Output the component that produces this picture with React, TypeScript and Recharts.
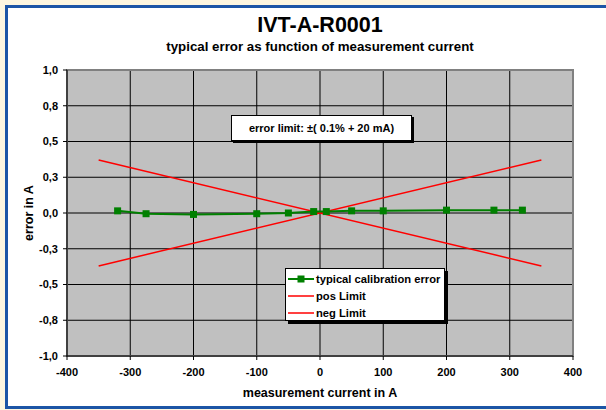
import React from "react";
import {
  LineChart,
  Line,
  XAxis,
  YAxis,
  CartesianGrid,
  ReferenceArea,
} from "recharts";

// measurement current (A) and typical calibration error (A)
const currents = [-320, -275, -200, -100, -50, -10, 10, 50, 100, 200, 275, 320];
const calibErrors = [0.015, -0.005, -0.01, -0.005, 0.0, 0.01, 0.01, 0.015, 0.015, 0.02, 0.02, 0.02];

// error limit ±(0.1% + 20 mA), drawn as straight lines between the end points
const limitCurrents = [-350, 350];
const posLimitValues = [-0.37, 0.37];
const negLimitValues = [0.37, -0.37];

const xTicks = [-400, -300, -200, -100, 0, 100, 200, 300, 400];
const yTicks = [-1, -0.75, -0.5, -0.25, 0, 0.25, 0.5, 0.75, 1];

const calibData = currents.map((x, i) => ({ x, y: calibErrors[i] }));
const posData = limitCurrents.map((x, i) => ({ x, y: posLimitValues[i] }));
const negData = limitCurrents.map((x, i) => ({ x, y: negLimitValues[i] }));

const legendItems = [
  { name: "typical calibration error", color: "#008000", marker: true },
  { name: "pos Limit", color: "#ff0000", marker: false },
  { name: "neg Limit", color: "#ff0000", marker: false },
];

const FONT = '"Liberation Sans", Arial, sans-serif';

const SquareDot = (props: any) => {
  const { cx, cy } = props;
  if (cx == null || cy == null) return null;
  return <rect x={cx - 3.5} y={cy - 3.5} width={7} height={7} fill="#008000" />;
};

const LegendBox = () => (
  <div
    style={{
      position: "absolute",
      left: 285,
      top: 268,
      width: 160,
      height: 53,
      background: "#fff",
      border: "1px solid #000",
      boxShadow: "3px 3px 0 #000",
      fontWeight: "bold",
      fontSize: 11.2,
      color: "#000",
      boxSizing: "border-box",
      padding: "1px 0 0 2px",
      whiteSpace: "nowrap",
    }}
  >
    {legendItems.map((it) => (
      <div key={it.name} style={{ display: "flex", alignItems: "center", height: 17 }}>
        <svg width={26} height={10} style={{ marginRight: 2 }}>
          <line x1={0} y1={5} x2={26} y2={5} stroke={it.color} strokeWidth={it.marker ? 2 : 1.5} />
          {it.marker && <rect x={9.5} y={1.5} width={7} height={7} fill={it.color} />}
        </svg>
        <span>{it.name}</span>
      </div>
    ))}
  </div>
);

export default function App() {
  return (
    <div
      style={{
        position: "absolute",
        left: 0,
        top: 0,
        width: 606,
        height: 410,
        background: "#fdf6e0",
        overflow: "hidden",
        fontFamily: FONT,
      }}
    >
      <div
        style={{
          position: "absolute",
          left: 5,
          top: 5,
          width: 660,
          height: 404,
          background: "#fff",
          border: "3px solid #1c55a6",
          boxSizing: "border-box",
        }}
      />
      <div style={{ position: "absolute", left: 0, top: 0, width: 606, height: 410 }}>
        <LineChart
          width={606}
          height={410}
          margin={{ top: 70, right: 33, left: 17, bottom: 24 }}
        >
          <CartesianGrid stroke="#000" strokeWidth={1} fill="#c0c0c0" fillOpacity={1} />
          <XAxis
            dataKey="x"
            type="number"
            domain={[-400, 400]}
            ticks={xTicks}
            allowDuplicatedCategory={false}
            height={30}
            tickSize={4}
            tickMargin={8}
            stroke="#000"
            tick={{ fill: "#000", fontSize: 11, fontWeight: "bold", fontFamily: FONT }}
          />
          <YAxis
            dataKey="y"
            type="number"
            domain={[-1, 1]}
            ticks={yTicks}
            width={50}
            tickSize={4}
            tickMargin={5}
            stroke="#000"
            tickFormatter={(v: number) => v.toFixed(1).replace(".", ",")}
            tick={{ fill: "#000", fontSize: 11, fontWeight: "bold", fontFamily: FONT }}
          />
          <ReferenceArea
            x1={-400}
            x2={400}
            y1={-1}
            y2={1}
            fill="none"
            stroke="#808080"
            strokeWidth={2}
            ifOverflow="visible"
          />
          <Line
            data={posData}
            dataKey="y"
            name="pos Limit"
            stroke="#ff0000"
            strokeWidth={1.5}
            dot={false}
            activeDot={false}
            isAnimationActive={false}
          />
          <Line
            data={negData}
            dataKey="y"
            name="neg Limit"
            stroke="#ff0000"
            strokeWidth={1.5}
            dot={false}
            activeDot={false}
            isAnimationActive={false}
          />
          <Line
            data={calibData}
            dataKey="y"
            name="typical calibration error"
            stroke="#008000"
            strokeWidth={2}
            dot={<SquareDot />}
            activeDot={false}
            isAnimationActive={false}
          />
        </LineChart>
      </div>

      <LegendBox />

      <div
        style={{
          position: "absolute",
          left: 0,
          width: 640,
          top: 13,
          textAlign: "center",
          fontWeight: "bold",
          fontSize: 21.5,
          color: "#000",
        }}
      >
        IVT-A-R0001
      </div>
      <div
        style={{
          position: "absolute",
          left: 0,
          width: 640,
          top: 39,
          textAlign: "center",
          fontWeight: "bold",
          fontSize: 13.3,
          color: "#000",
        }}
      >
        typical error as function of measurement current
      </div>

      <div
        style={{
          position: "absolute",
          left: 231,
          top: 115,
          width: 181,
          height: 26,
          background: "#fff",
          border: "1px solid #000",
          boxShadow: "2px 2px 0 #000",
          boxSizing: "border-box",
          display: "flex",
          alignItems: "center",
          justifyContent: "center",
          fontWeight: "bold",
          fontSize: 11,
          color: "#000",
          whiteSpace: "nowrap",
        }}
      >
        error limit: ±( 0.1% + 20 mA)
      </div>

      <div
        style={{
          position: "absolute",
          left: 29 - 60,
          top: 213 - 8,
          width: 120,
          height: 16,
          lineHeight: "16px",
          textAlign: "center",
          transform: "rotate(-90deg)",
          fontWeight: "bold",
          fontSize: 12.5,
          color: "#000",
        }}
      >
        error in A
      </div>
      <div
        style={{
          position: "absolute",
          left: 220,
          width: 200,
          top: 386,
          textAlign: "center",
          fontWeight: "bold",
          fontSize: 12.5,
          color: "#000",
        }}
      >
        measurement current in A
      </div>
    </div>
  );
}
